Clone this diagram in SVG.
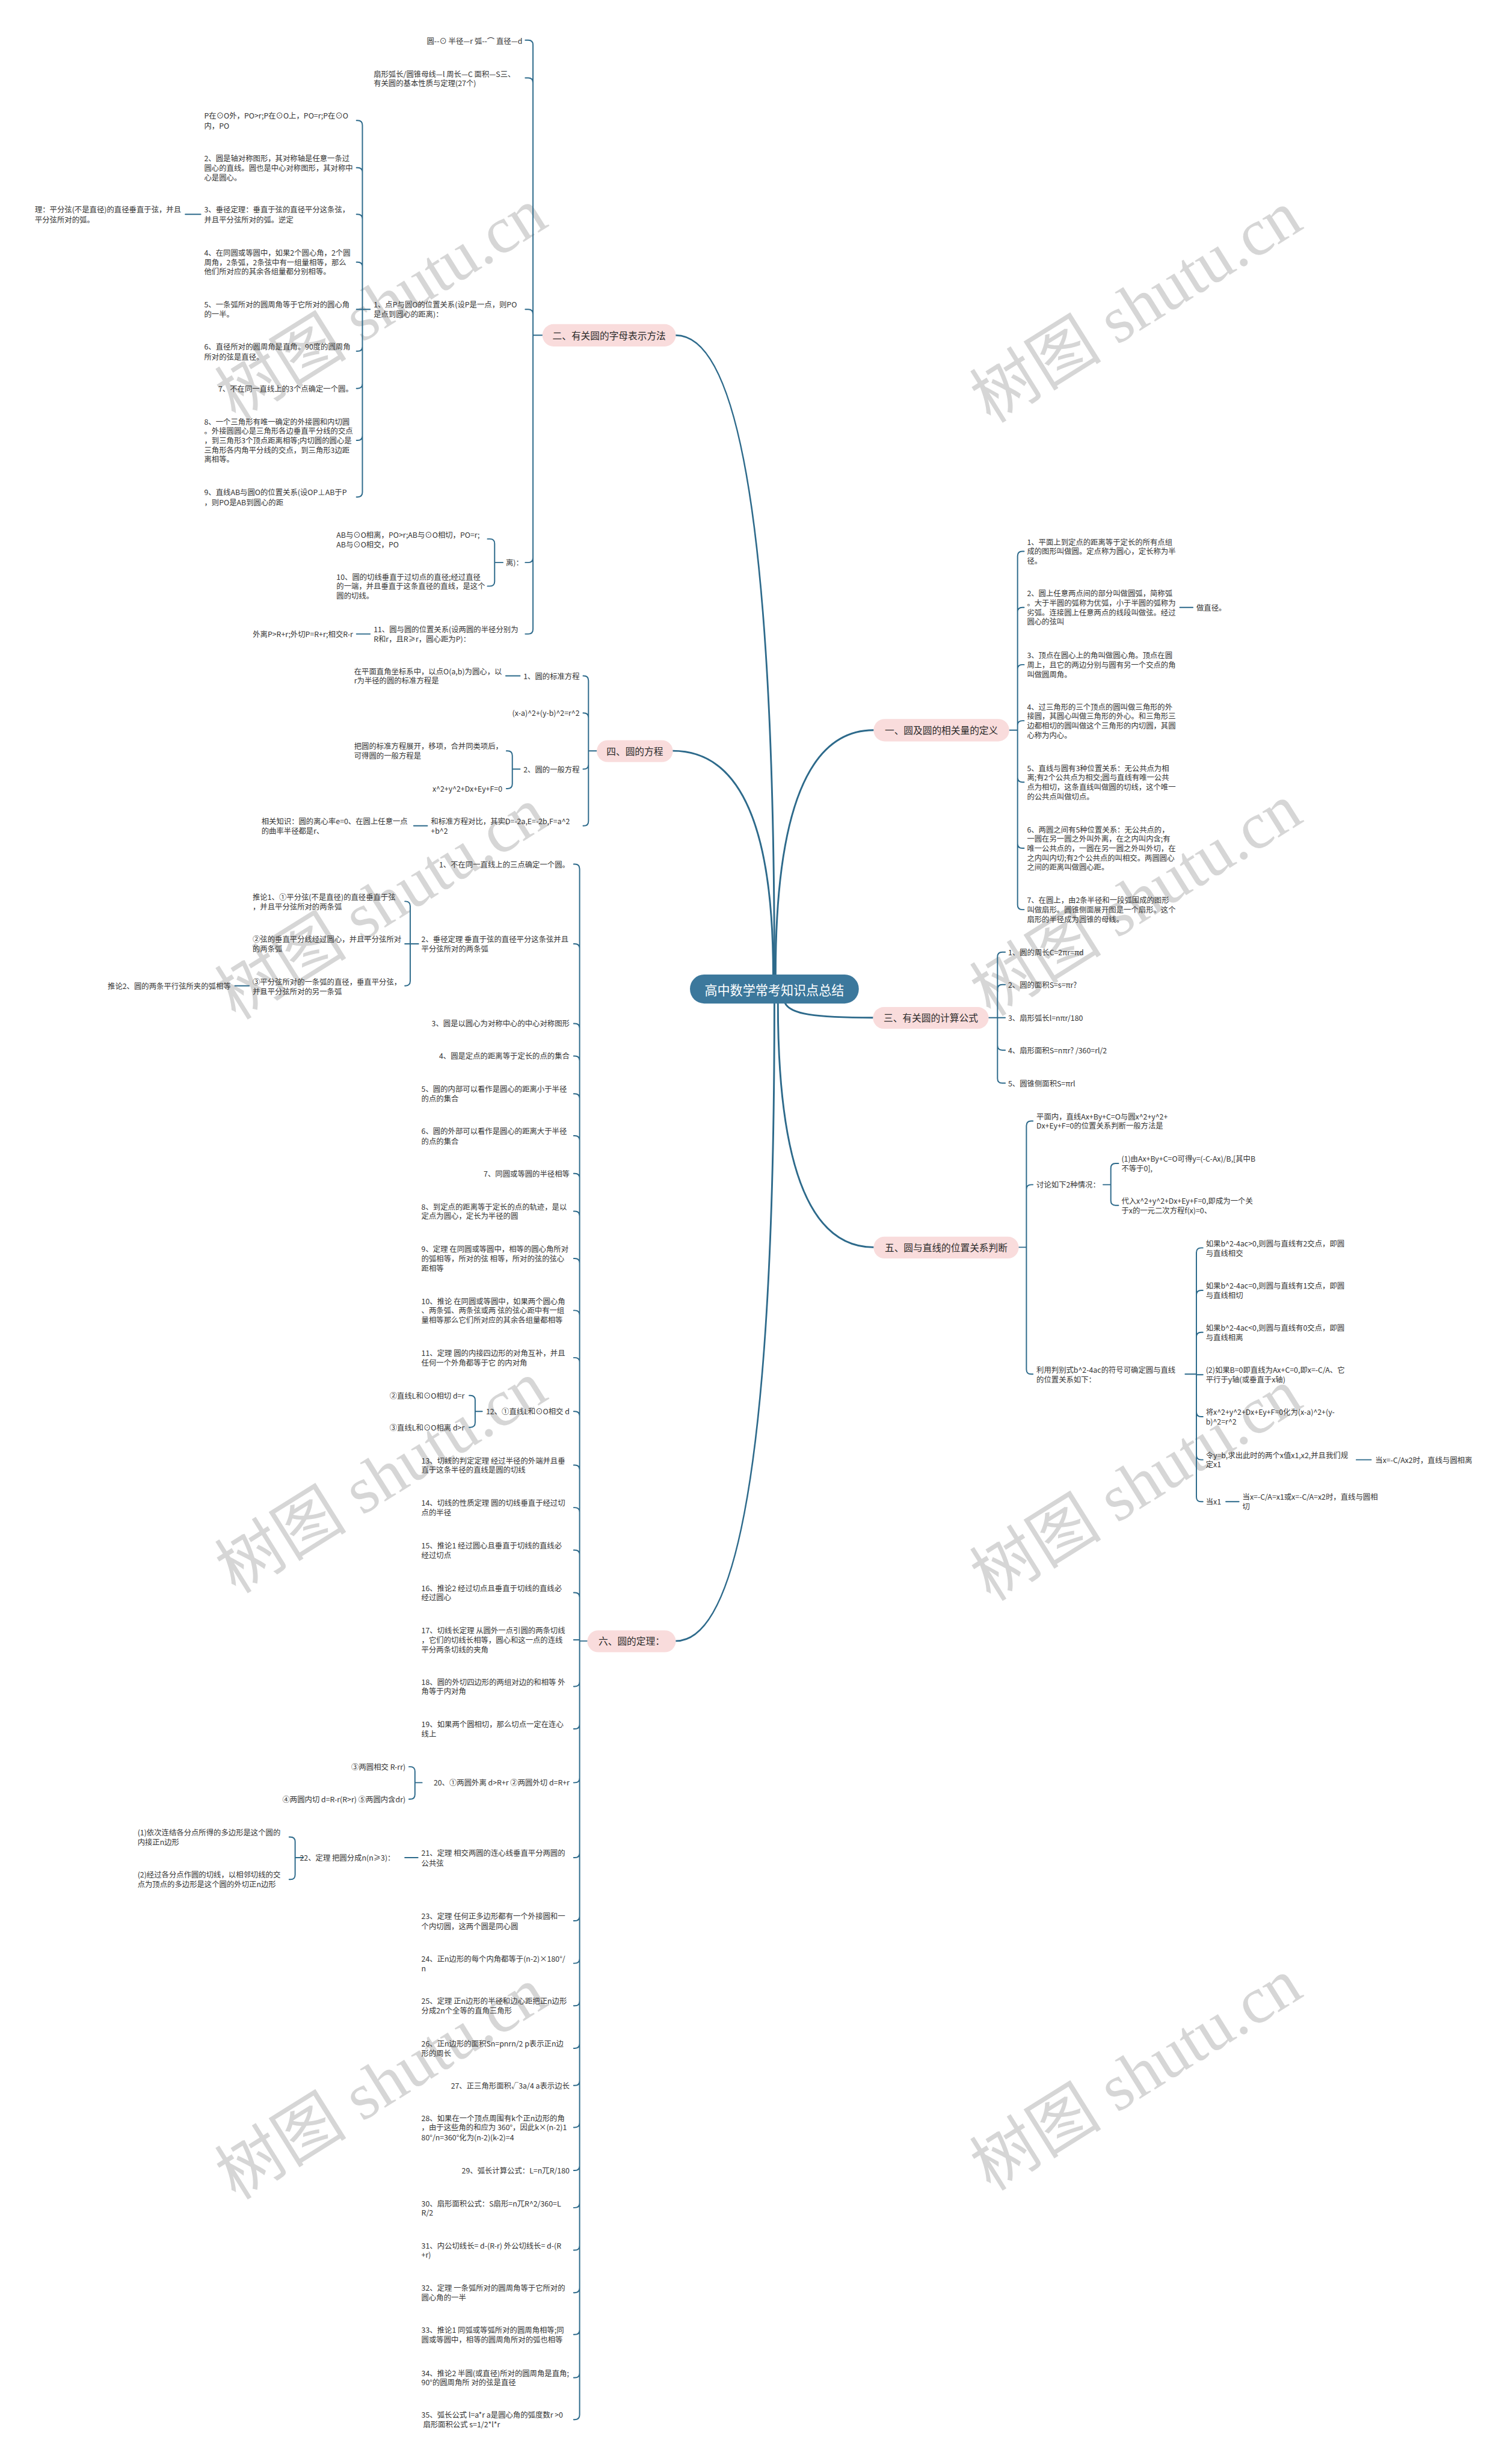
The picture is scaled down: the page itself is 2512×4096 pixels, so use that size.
<svg xmlns="http://www.w3.org/2000/svg" width="2512" height="4096" viewBox="0 0 2512 4096">
<style>
text, tspan { font-family: "Noto Sans CJK SC", "Noto Sans", sans-serif; dominant-baseline: central; }
.t { font-size: 12.6px; fill: #333333; }
.e { text-anchor: end; }
.n1 rect { fill: #f9dcdc; }
.n1 text { font-size: 16px; fill: #2a2a2a; text-anchor: middle; }
.n0 rect { fill: #3c789c; }
.n0 text { font-size: 21.5px; fill: #ffffff; text-anchor: middle; }
.ln { fill: none; stroke: #2d6a8b; stroke-width: 2; stroke-linecap: round; stroke-linejoin: round; }
.mn { fill: none; stroke: #2d6a8b; stroke-width: 3; stroke-linecap: round; }
.wm text { font-family: "Liberation Serif", "Noto Sans CJK SC", serif; font-size: 112px; fill: #d6d6d6; text-anchor: middle; }
</style>
<rect width="2512" height="4096" fill="#ffffff"/>
<g transform="scale(0.98125)">
<g id="watermarks" class="wm">
<text x="646" y="516" transform="rotate(-32 646 516)">树图 shutu.cn</text>
<text x="646" y="1531" transform="rotate(-32 646 1531)">树图 shutu.cn</text>
<text x="646" y="2503" transform="rotate(-32 646 2503)">树图 shutu.cn</text>
<text x="646" y="3530" transform="rotate(-32 646 3530)">树图 shutu.cn</text>
<text x="1925" y="520" transform="rotate(-32 1925 520)">树图 shutu.cn</text>
<text x="1925" y="1525" transform="rotate(-32 1925 1525)">树图 shutu.cn</text>
<text x="1925" y="2516" transform="rotate(-32 1925 2516)">树图 shutu.cn</text>
<text x="1925" y="3515" transform="rotate(-32 1925 3515)">树图 shutu.cn</text>
</g>
<g id="connectors">
<path class="mn" d="M1312 1651 Q1312 568 1145 568"/>
<path class="mn" d="M1310 1651 Q1310 1272 1140 1272"/>
<path class="mn" d="M1314 1651 Q1314 1237 1480 1237"/>
<path class="mn" d="M1330 1699 C1338 1718 1380 1724 1479 1724"/>
<path class="mn" d="M1318 1700 Q1318 2113 1480 2113"/>
<path class="mn" d="M1312 1700 Q1312 2780 1145 2780"/>
<path class="ln" d="M919 568 L903 568 M890 68 L895 68 Q903 68 903 76 L903 1066 Q903 1074 895 1074 L890 1074 M903 140 Q903 132 895 132 L890 132 M903 532 Q903 524 895 524 L890 524 M903 945 Q903 953 895 953 L890 953"/>
<path class="ln" d="M627 524 L614 524 M604 204 L606 204 Q614 204 614 212 L614 834 Q614 842 606 842 L604 842 M614 292 Q614 284 606 284 L604 284 M614 371 Q614 363 606 363 L604 363 M614 452 Q614 444 606 444 L604 444 M614 524 L604 524 M614 587 Q614 595 606 595 L604 595 M614 650 Q614 658 606 658 L604 658 M614 738 Q614 746 606 746 L604 746"/>
<path class="ln" d="M340 363 L314 363"/>
<path class="ln" d="M852 953 L838 953 M826 913 L830 913 Q838 913 838 921 L838 985 Q838 993 830 993 L826 993"/>
<path class="ln" d="M627 1074 L604 1074"/>
<path class="ln" d="M1011 1272 L997 1272 M988 1145 L989 1145 Q997 1145 997 1153 L997 1391 Q997 1399 989 1399 L988 1399 M997 1216 Q997 1208 989 1208 L988 1208 M997 1295 Q997 1303 989 1303 L988 1303"/>
<path class="ln" d="M881 1145 L857 1145"/>
<path class="ln" d="M881 1303 L868 1303 M858 1272 L860 1272 Q868 1272 868 1280 L868 1328 Q868 1336 860 1336 L858 1336"/>
<path class="ln" d="M724 1399 L701 1399"/>
<path class="ln" d="M995 2780 L982 2780 M972 1464 L974 1464 Q982 1464 982 1472 L982 4091 Q982 4099 974 4099 L972 4099 M982 1607 Q982 1599 974 1599 L972 1599 M982 1742 Q982 1734 974 1734 L972 1734 M982 1797 Q982 1789 974 1789 L972 1789 M982 1861 Q982 1853 974 1853 L972 1853 M982 1932 Q982 1924 974 1924 L972 1924 M982 1996 Q982 1988 974 1988 L972 1988 M982 2060 Q982 2052 974 2052 L972 2052 M982 2140 Q982 2132 974 2132 L972 2132 M982 2228 Q982 2220 974 2220 L972 2220 M982 2308 Q982 2300 974 2300 L972 2300 M982 2399 Q982 2391 974 2391 L972 2391 M982 2490 Q982 2482 974 2482 L972 2482 M982 2562 Q982 2554 974 2554 L972 2554 M982 2634 Q982 2626 974 2626 L972 2626 M982 2706 Q982 2698 974 2698 L972 2698 M982 2778 L972 2778 M982 2849 Q982 2857 974 2857 L972 2857 M982 2921 Q982 2929 974 2929 L972 2929 M982 3012 Q982 3020 974 3020 L972 3020 M982 3139 Q982 3147 974 3147 L972 3147 M982 3246 Q982 3254 974 3254 L972 3254 M982 3318 Q982 3326 974 3326 L972 3326 M982 3390 Q982 3398 974 3398 L972 3398 M982 3462 Q982 3470 974 3470 L972 3470 M982 3525 Q982 3533 974 3533 L972 3533 M982 3596 Q982 3604 974 3604 L972 3604 M982 3669 Q982 3677 974 3677 L972 3677 M982 3732 Q982 3740 974 3740 L972 3740 M982 3804 Q982 3812 974 3812 L972 3812 M982 3876 Q982 3884 974 3884 L972 3884 M982 3947 Q982 3955 974 3955 L972 3955 M982 4020 Q982 4028 974 4028 L972 4028"/>
<path class="ln" d="M709 1599 L695 1599 M686 1527 L687 1527 Q695 1527 695 1535 L695 1662 Q695 1670 687 1670 L686 1670 M695 1599 L686 1599"/>
<path class="ln" d="M422 1670 L398 1670"/>
<path class="ln" d="M817 2391 L805 2391 M795 2364 L797 2364 Q805 2364 805 2372 L805 2410 Q805 2418 797 2418 L795 2418"/>
<path class="ln" d="M715 3020 L703 3020 M693 2993 L695 2993 Q703 2993 703 3001 L703 3040 Q703 3048 695 3048 L693 3048"/>
<path class="ln" d="M708 3147 L686 3147"/>
<path class="ln" d="M514 3147 L500 3147 M490 3112 L492 3112 Q500 3112 500 3120 L500 3176 Q500 3184 492 3184 L490 3184"/>
<path class="ln" d="M1710 1237 L1724 1237 M1735 934 L1732 934 Q1724 934 1724 942 L1724 1533 Q1724 1541 1732 1541 L1735 1541 M1724 1037 Q1724 1029 1732 1029 L1735 1029 M1724 1134 Q1724 1126 1732 1126 L1735 1126 M1724 1229 Q1724 1221 1732 1221 L1735 1221 M1724 1317 Q1724 1325 1732 1325 L1735 1325 M1724 1429 Q1724 1437 1732 1437 L1735 1437"/>
<path class="ln" d="M1999 1029 L2021 1029"/>
<path class="ln" d="M1675 1724 L1690 1724 M1703 1613 L1698 1613 Q1690 1613 1690 1621 L1690 1827 Q1690 1835 1698 1835 L1703 1835 M1690 1676 Q1690 1668 1698 1668 L1703 1668 M1690 1724 L1703 1724 M1690 1771 Q1690 1779 1698 1779 L1703 1779"/>
<path class="ln" d="M1726 2113 L1739 2113 M1750 1899 L1747 1899 Q1739 1899 1739 1907 L1739 2320 Q1739 2328 1747 2328 L1750 2328 M1739 2015 Q1739 2007 1747 2007 L1750 2007"/>
<path class="ln" d="M1869 2007 L1882 2007 M1895 1971 L1890 1971 Q1882 1971 1882 1979 L1882 2034 Q1882 2042 1890 2042 L1895 2042"/>
<path class="ln" d="M2008 2328 L2027 2328 M2038 2114 L2035 2114 Q2027 2114 2027 2122 L2027 2536 Q2027 2544 2035 2544 L2038 2544 M2027 2194 Q2027 2186 2035 2186 L2038 2186 M2027 2265 Q2027 2257 2035 2257 L2038 2257 M2027 2329 L2038 2329 M2027 2392 Q2027 2400 2035 2400 L2038 2400 M2027 2465 Q2027 2473 2035 2473 L2038 2473"/>
<path class="ln" d="M2298 2473 L2323 2473"/>
<path class="ln" d="M2077 2544 L2099 2544"/>
</g>
<g id="root" class="n0"><rect x="1169" y="1651" width="286" height="49" rx="24"/><text x="1312" y="1676">高中数学常考知识点总结</text></g>
<g id="b2" class="n1"><rect x="919" y="549" width="226" height="38" rx="19"/><text x="1032" y="568">二、有关圆的字母表示方法</text></g>
<g id="b4" class="n1"><rect x="1011" y="1254" width="129" height="37" rx="18.5"/><text x="1075.5" y="1272">四、圆的方程</text></g>
<g id="b6" class="n1"><rect x="995" y="2762" width="150" height="37" rx="18.5"/><text x="1070" y="2780">六、圆的定理：</text></g>
<g id="b1" class="n1"><rect x="1480" y="1218" width="230" height="38" rx="19"/><text x="1595" y="1237">一、圆及圆的相关量的定义</text></g>
<g id="b3" class="n1"><rect x="1479" y="1706" width="196" height="37" rx="18.5"/><text x="1577" y="1724">三、有关圆的计算公式</text></g>
<g id="b5" class="n1"><rect x="1480" y="2095" width="246" height="37" rx="18.5"/><text x="1603" y="2113">五、圆与直线的位置关系判断</text></g>

<g id="n2a"><text class="t e" x="885" y="69">圆--⊙ 半径—r 弧--⌒ 直径—d</text></g>
<g id="n2b"><text class="t"><tspan x="633" y="125">扇形弧长/圆锥母线—l 周长—C 面积—S三、</tspan><tspan x="633" y="141">有关圆的基本性质与定理(27个)</tspan></text></g>
<g id="n2c"><text class="t"><tspan x="633" y="516">1、点P与圆O的位置关系(设P是一点，则PO</tspan><tspan x="633" y="532">是点到圆心的距离)：</tspan></text></g>
<g id="n2c1"><text class="t"><tspan x="346" y="196">P在⊙O外，PO>r;P在⊙O上，PO=r;P在⊙O</tspan><tspan x="346" y="213">内，PO</tspan></text></g>
<g id="n2c2"><text class="t"><tspan x="346" y="268">2、圆是轴对称图形，其对称轴是任意一条过</tspan><tspan x="346" y="284">圆心的直线。圆也是中心对称图形，其对称中</tspan><tspan x="346" y="301">心是圆心。</tspan></text></g>
<g id="n2c3"><text class="t"><tspan x="346" y="355">3、垂径定理：垂直于弦的直径平分这条弦，</tspan><tspan x="346" y="372">并且平分弦所对的弧。逆定</tspan></text></g>
<g id="n2c3a"><text class="t"><tspan x="59" y="355">理：平分弦(不是直径)的直径垂直于弦，并且</tspan><tspan x="59" y="372">平分弦所对的弧。</tspan></text></g>
<g id="n2c4"><text class="t"><tspan x="346" y="428">4、在同圆或等圆中，如果2个圆心角，2个圆</tspan><tspan x="346" y="444">周角，2条弧，2条弦中有一组量相等，那么</tspan><tspan x="346" y="460">他们所对应的其余各组量都分别相等。</tspan></text></g>
<g id="n2c5"><text class="t"><tspan x="346" y="516">5、一条弧所对的圆周角等于它所对的圆心角</tspan><tspan x="346" y="532">的一半。</tspan></text></g>
<g id="n2c6"><text class="t"><tspan x="346" y="587">6、直径所对的圆周角是直角。90度的圆周角</tspan><tspan x="346" y="604">所对的弦是直径。</tspan></text></g>
<g id="n2c7"><text class="t e" x="598" y="658">7、不在同一直线上的3个点确定一个圆。</text></g>
<g id="n2c8"><text class="t"><tspan x="346" y="714">8、一个三角形有唯一确定的外接圆和内切圆</tspan><tspan x="346" y="730">。外接圆圆心是三角形各边垂直平分线的交点</tspan><tspan x="346" y="746">，到三角形3个顶点距离相等;内切圆的圆心是</tspan><tspan x="346" y="762">三角形各内角平分线的交点，到三角形3边距</tspan><tspan x="346" y="778">离相等。</tspan></text></g>
<g id="n2c9"><text class="t"><tspan x="346" y="834">9、直线AB与圆O的位置关系(设OP⊥AB于P</tspan><tspan x="346" y="851">，则PO是AB到圆心的距</tspan></text></g>
<g id="n2d"><text class="t" x="857" y="953">离)：</text></g>
<g id="n2d1"><text class="t"><tspan x="570" y="906">AB与⊙O相离，PO>r;AB与⊙O相切，PO=r;</tspan><tspan x="570" y="922">AB与⊙O相交，PO</tspan></text></g>
<g id="n2d2"><text class="t"><tspan x="570" y="977">10、圆的切线垂直于过切点的直径;经过直径</tspan><tspan x="570" y="993">的一端，并且垂直于这条直径的直线，是这个</tspan><tspan x="570" y="1009">圆的切线。</tspan></text></g>
<g id="n2e"><text class="t"><tspan x="633" y="1066">11、圆与圆的位置关系(设两圆的半径分别为</tspan><tspan x="633" y="1082">R和r，且R≥r，圆心距为P)：</tspan></text></g>
<g id="n2e1"><text class="t e" x="598" y="1074">外离P>R+r;外切P=R+r;相交R-r</text></g>

<g id="n4a"><text class="t e" x="982" y="1145">1、圆的标准方程</text></g>
<g id="n4a1"><text class="t"><tspan x="600" y="1137">在平面直角坐标系中，以点O(a,b)为圆心，以</tspan><tspan x="600" y="1153">r为半径的圆的标准方程是</tspan></text></g>
<g id="n4b"><text class="t e" x="982" y="1208">(x-a)^2+(y-b)^2=r^2</text></g>
<g id="n4c"><text class="t e" x="982" y="1303">2、圆的一般方程</text></g>
<g id="n4c1"><text class="t"><tspan x="600" y="1264">把圆的标准方程展开，移项，合并同类项后，</tspan><tspan x="600" y="1280">可得圆的一般方程是</tspan></text></g>
<g id="n4c2"><text class="t e" x="851" y="1336">x^2+y^2+Dx+Ey+F=0</text></g>
<g id="n4d"><text class="t"><tspan x="730" y="1391">和标准方程对比，其实D=-2a,E=-2b,F=a^2</tspan><tspan x="730" y="1407">+b^2</tspan></text></g>
<g id="n4d1"><text class="t"><tspan x="443" y="1391">相关知识：圆的离心率e=0、在圆上任意一点</tspan><tspan x="443" y="1407">的曲率半径都是r、</tspan></text></g>

<g id="n6-1"><text class="t e" x="965" y="1464">1、不在同一直线上的三点确定一个圆。</text></g>
<g id="n6-2"><text class="t"><tspan x="714" y="1591">2、垂径定理 垂直于弦的直径平分这条弦并且</tspan><tspan x="714" y="1607">平分弦所对的两条弧</tspan></text></g>
<g id="n6-2a"><text class="t"><tspan x="428" y="1519">推论1、①平分弦(不是直径)的直径垂直于弦</tspan><tspan x="428" y="1536">，并且平分弦所对的两条弧</tspan></text></g>
<g id="n6-2b"><text class="t"><tspan x="428" y="1591">②弦的垂直平分线经过圆心，并且平分弦所对</tspan><tspan x="428" y="1607">的两条弧</tspan></text></g>
<g id="n6-2c"><text class="t"><tspan x="428" y="1663">③平分弦所对的一条弧的直径，垂直平分弦，</tspan><tspan x="428" y="1679">并且平分弦所对的另一条弧</tspan></text></g>
<g id="n6-2d"><text class="t e" x="391" y="1670">推论2、圆的两条平行弦所夹的弧相等</text></g>
<g id="n6-3"><text class="t e" x="965" y="1734">3、圆是以圆心为对称中心的中心对称图形</text></g>
<g id="n6-4"><text class="t e" x="965" y="1789">4、圆是定点的距离等于定长的点的集合</text></g>
<g id="n6-5"><text class="t"><tspan x="714" y="1845">5、圆的内部可以看作是圆心的距离小于半径</tspan><tspan x="714" y="1861">的点的集合</tspan></text></g>
<g id="n6-6"><text class="t"><tspan x="714" y="1916">6、圆的外部可以看作是圆心的距离大于半径</tspan><tspan x="714" y="1933">的点的集合</tspan></text></g>
<g id="n6-7"><text class="t e" x="965" y="1988">7、同圆或等圆的半径相等</text></g>
<g id="n6-8"><text class="t"><tspan x="714" y="2044">8、到定点的距离等于定长的点的轨迹，是以</tspan><tspan x="714" y="2060">定点为圆心，定长为半径的圆</tspan></text></g>
<g id="n6-9"><text class="t"><tspan x="714" y="2116">9、定理 在同圆或等圆中，相等的圆心角所对</tspan><tspan x="714" y="2132">的弧相等，所对的弦 相等，所对的弦的弦心</tspan><tspan x="714" y="2148">距相等</tspan></text></g>
<g id="n6-10"><text class="t"><tspan x="714" y="2204">10、推论 在同圆或等圆中，如果两个圆心角</tspan><tspan x="714" y="2220">、两条弧、两条弦或两 弦的弦心距中有一组</tspan><tspan x="714" y="2236">量相等那么它们所对应的其余各组量都相等</tspan></text></g>
<g id="n6-11"><text class="t"><tspan x="714" y="2292">11、定理 圆的内接四边形的对角互补，并且</tspan><tspan x="714" y="2308">任何一个外角都等于它 的内对角</tspan></text></g>
<g id="n6-12"><text class="t e" x="965" y="2391">12、①直线L和⊙O相交 d</text></g>
<g id="n6-12a"><text class="t e" x="787" y="2364">②直线L和⊙O相切 d=r</text></g>
<g id="n6-12b"><text class="t e" x="787" y="2418">③直线L和⊙O相离 d>r</text></g>
<g id="n6-13"><text class="t"><tspan x="714" y="2474">13、切线的判定定理 经过半径的外端并且垂</tspan><tspan x="714" y="2490">直于这条半径的直线是圆的切线</tspan></text></g>
<g id="n6-14"><text class="t"><tspan x="714" y="2546">14、切线的性质定理 圆的切线垂直于经过切</tspan><tspan x="714" y="2562">点的半径</tspan></text></g>
<g id="n6-15"><text class="t"><tspan x="714" y="2618">15、推论1 经过圆心且垂直于切线的直线必</tspan><tspan x="714" y="2634">经过切点</tspan></text></g>
<g id="n6-16"><text class="t"><tspan x="714" y="2690">16、推论2 经过切点且垂直于切线的直线必</tspan><tspan x="714" y="2706">经过圆心</tspan></text></g>
<g id="n6-17"><text class="t"><tspan x="714" y="2762">17、切线长定理 从圆外一点引圆的两条切线</tspan><tspan x="714" y="2778">，它们的切线长相等，圆心和这一点的连线</tspan><tspan x="714" y="2794">平分两条切线的夹角</tspan></text></g>
<g id="n6-18"><text class="t"><tspan x="714" y="2849">18、圆的外切四边形的两组对边的和相等 外</tspan><tspan x="714" y="2865">角等于内对角</tspan></text></g>
<g id="n6-19"><text class="t"><tspan x="714" y="2921">19、如果两个圆相切，那么切点一定在连心</tspan><tspan x="714" y="2937">线上</tspan></text></g>
<g id="n6-20"><text class="t e" x="965" y="3020">20、①两圆外离 d>R+r ②两圆外切 d=R+r</text></g>
<g id="n6-20a"><text class="t e" x="687" y="2993">③两圆相交 R-rr)</text></g>
<g id="n6-20b"><text class="t e" x="687" y="3048">④两圆内切 d=R-r(R>r) ⑤两圆内含dr)</text></g>
<g id="n6-21"><text class="t"><tspan x="714" y="3139">21、定理 相交两圆的连心线垂直平分两圆的</tspan><tspan x="714" y="3156">公共弦</tspan></text></g>
<g id="n6-22"><text class="t e" x="669" y="3147">22、定理 把圆分成n(n≥3)：</text></g>
<g id="n6-22a"><text class="t"><tspan x="233" y="3104">(1)依次连结各分点所得的多边形是这个圆的</tspan><tspan x="233" y="3120">内接正n边形</tspan></text></g>
<g id="n6-22b"><text class="t"><tspan x="233" y="3176">(2)经过各分点作圆的切线，以相邻切线的交</tspan><tspan x="233" y="3192">点为顶点的多边形是这个圆的外切正n边形</tspan></text></g>
<g id="n6-23"><text class="t"><tspan x="714" y="3246">23、定理 任何正多边形都有一个外接圆和一</tspan><tspan x="714" y="3263">个内切圆，这两个圆是同心圆</tspan></text></g>
<g id="n6-24"><text class="t"><tspan x="714" y="3318">24、正n边形的每个内角都等于(n-2)×180°/</tspan><tspan x="714" y="3335">n</tspan></text></g>
<g id="n6-25"><text class="t"><tspan x="714" y="3390">25、定理 正n边形的半径和边心距把正n边形</tspan><tspan x="714" y="3406">分成2n个全等的直角三角形</tspan></text></g>
<g id="n6-26"><text class="t"><tspan x="714" y="3462">26、正n边形的面积Sn=pnrn/2 p表示正n边</tspan><tspan x="714" y="3478">形的周长</tspan></text></g>
<g id="n6-27"><text class="t e" x="965" y="3533">27、正三角形面积√3a/4 a表示边长</text></g>
<g id="n6-28"><text class="t"><tspan x="714" y="3588">28、如果在一个顶点周围有k个正n边形的角</tspan><tspan x="714" y="3604">，由于这些角的和应为 360°，因此k×(n-2)1</tspan><tspan x="714" y="3621">80°/n=360°化为(n-2)(k-2)=4</tspan></text></g>
<g id="n6-29"><text class="t e" x="965" y="3677">29、弧长计算公式：L=n兀R/180</text></g>
<g id="n6-30"><text class="t"><tspan x="714" y="3733">30、扇形面积公式：S扇形=n兀R^2/360=L</tspan><tspan x="714" y="3748">R/2</tspan></text></g>
<g id="n6-31"><text class="t"><tspan x="714" y="3804">31、内公切线长= d-(R-r) 外公切线长= d-(R</tspan><tspan x="714" y="3820">+r)</tspan></text></g>
<g id="n6-32"><text class="t"><tspan x="714" y="3876">32、定理 一条弧所对的圆周角等于它所对的</tspan><tspan x="714" y="3892">圆心角的一半</tspan></text></g>
<g id="n6-33"><text class="t"><tspan x="714" y="3947">33、推论1 同弧或等弧所对的圆周角相等;同</tspan><tspan x="714" y="3963">圆或等圆中，相等的圆周角所对的弧也相等</tspan></text></g>
<g id="n6-34"><text class="t"><tspan x="714" y="4020">34、推论2 半圆(或直径)所对的圆周角是直角;</tspan><tspan x="714" y="4036">90°的圆周角所 对的弦是直径</tspan></text></g>
<g id="n6-35"><text class="t"><tspan x="714" y="4091">35、弧长公式 l=a*r a是圆心角的弧度数r >0</tspan><tspan x="714" y="4107"> 扇形面积公式 s=1/2*l*r</tspan></text></g>

<g id="n1-1"><text class="t"><tspan x="1740" y="918">1、平面上到定点的距离等于定长的所有点组</tspan><tspan x="1740" y="934">成的图形叫做圆。定点称为圆心，定长称为半</tspan><tspan x="1740" y="950">径。</tspan></text></g>
<g id="n1-2"><text class="t"><tspan x="1740" y="1005">2、圆上任意两点间的部分叫做圆弧，简称弧</tspan><tspan x="1740" y="1021">。大于半圆的弧称为优弧，小于半圆的弧称为</tspan><tspan x="1740" y="1037">劣弧。连接圆上任意两点的线段叫做弦。经过</tspan><tspan x="1740" y="1053">圆心的弦叫</tspan></text></g>
<g id="n1-2a"><text class="t" x="2027" y="1029">做直径。</text></g>
<g id="n1-3"><text class="t"><tspan x="1740" y="1110">3、顶点在圆心上的角叫做圆心角。顶点在圆</tspan><tspan x="1740" y="1126">周上，且它的两边分别与圆有另一个交点的角</tspan><tspan x="1740" y="1142">叫做圆周角。</tspan></text></g>
<g id="n1-4"><text class="t"><tspan x="1740" y="1197">4、过三角形的三个顶点的圆叫做三角形的外</tspan><tspan x="1740" y="1213">接圆，其圆心叫做三角形的外心。和三角形三</tspan><tspan x="1740" y="1229">边都相切的圆叫做这个三角形的内切圆，其圆</tspan><tspan x="1740" y="1245">心称为内心。</tspan></text></g>
<g id="n1-5"><text class="t"><tspan x="1740" y="1301">5、直线与圆有3种位置关系：无公共点为相</tspan><tspan x="1740" y="1317">离;有2个公共点为相交;圆与直线有唯一公共</tspan><tspan x="1740" y="1333">点为相切，这条直线叫做圆的切线，这个唯一</tspan><tspan x="1740" y="1349">的公共点叫做切点。</tspan></text></g>
<g id="n1-6"><text class="t"><tspan x="1740" y="1405">6、两圆之间有5种位置关系：无公共点的，</tspan><tspan x="1740" y="1421">一圆在另一圆之外叫外离，在之内叫内含;有</tspan><tspan x="1740" y="1437">唯一公共点的，一圆在另一圆之外叫外切，在</tspan><tspan x="1740" y="1453">之内叫内切;有2个公共点的叫相交。两圆圆心</tspan><tspan x="1740" y="1469">之间的距离叫做圆心距。</tspan></text></g>
<g id="n1-7"><text class="t"><tspan x="1740" y="1525">7、在圆上，由2条半径和一段弧围成的图形</tspan><tspan x="1740" y="1541">叫做扇形。圆锥侧面展开图是一个扇形。这个</tspan><tspan x="1740" y="1557">扇形的半径成为圆锥的母线。</tspan></text></g>

<g id="n3-1"><text class="t" x="1708" y="1613">1、圆的周长C=2πr=πd</text></g>
<g id="n3-2"><text class="t" x="1708" y="1668">2、圆的面积S=s=πr?</text></g>
<g id="n3-3"><text class="t" x="1708" y="1724">3、扇形弧长l=nπr/180</text></g>
<g id="n3-4"><text class="t" x="1708" y="1779">4、扇形面积S=nπr? /360=rl/2</text></g>
<g id="n3-5"><text class="t" x="1708" y="1835">5、圆锥侧面积S=πrl</text></g>

<g id="n5a"><text class="t"><tspan x="1756" y="1891">平面内，直线Ax+By+C=O与圆x^2+y^2+</tspan><tspan x="1756" y="1907">Dx+Ey+F=0的位置关系判断一般方法是</tspan></text></g>
<g id="n5b"><text class="t" x="1756" y="2007">讨论如下2种情况：</text></g>
<g id="n5b1"><text class="t"><tspan x="1900" y="1963">(1)由Ax+By+C=O可得y=(-C-Ax)/B,[其中B</tspan><tspan x="1900" y="1979">不等于0],</tspan></text></g>
<g id="n5b2"><text class="t"><tspan x="1900" y="2034">代入x^2+y^2+Dx+Ey+F=0,即成为一个关</tspan><tspan x="1900" y="2050">于x的一元二次方程f(x)=0、</tspan></text></g>
<g id="n5c"><text class="t"><tspan x="1756" y="2320">利用判别式b^2-4ac的符号可确定圆与直线</tspan><tspan x="1756" y="2337">的位置关系如下：</tspan></text></g>
<g id="n5c1"><text class="t"><tspan x="2043" y="2106">如果b^2-4ac>0,则圆与直线有2交点，即圆</tspan><tspan x="2043" y="2123">与直线相交</tspan></text></g>
<g id="n5c2"><text class="t"><tspan x="2043" y="2178">如果b^2-4ac=0,则圆与直线有1交点，即圆</tspan><tspan x="2043" y="2194">与直线相切</tspan></text></g>
<g id="n5c3"><text class="t"><tspan x="2043" y="2249">如果b^2-4ac&lt;0,则圆与直线有0交点，即圆</tspan><tspan x="2043" y="2265">与直线相离</tspan></text></g>
<g id="n5c4"><text class="t"><tspan x="2043" y="2321">(2)如果B=0即直线为Ax+C=0,即x=-C/A、它</tspan><tspan x="2043" y="2337">平行于y轴(或垂直于x轴)</tspan></text></g>
<g id="n5c5"><text class="t"><tspan x="2043" y="2392">将x^2+y^2+Dx+Ey+F=0化为(x-a)^2+(y-</tspan><tspan x="2043" y="2408">b)^2=r^2</tspan></text></g>
<g id="n5c6"><text class="t"><tspan x="2043" y="2465">令y=b,求出此时的两个x值x1,x2,并且我们规</tspan><tspan x="2043" y="2481">定x1</tspan></text></g>
<g id="n5c6a"><text class="t" x="2330" y="2473">当x=-C/Ax2时，直线与圆相离</text></g>
<g id="n5c7"><text class="t" x="2043" y="2544">当x1</text></g>
<g id="n5c7a"><text class="t"><tspan x="2105" y="2536">当x=-C/A=x1或x=-C/A=x2时，直线与圆相</tspan><tspan x="2105" y="2552">切</tspan></text></g>
</g>
</svg>
